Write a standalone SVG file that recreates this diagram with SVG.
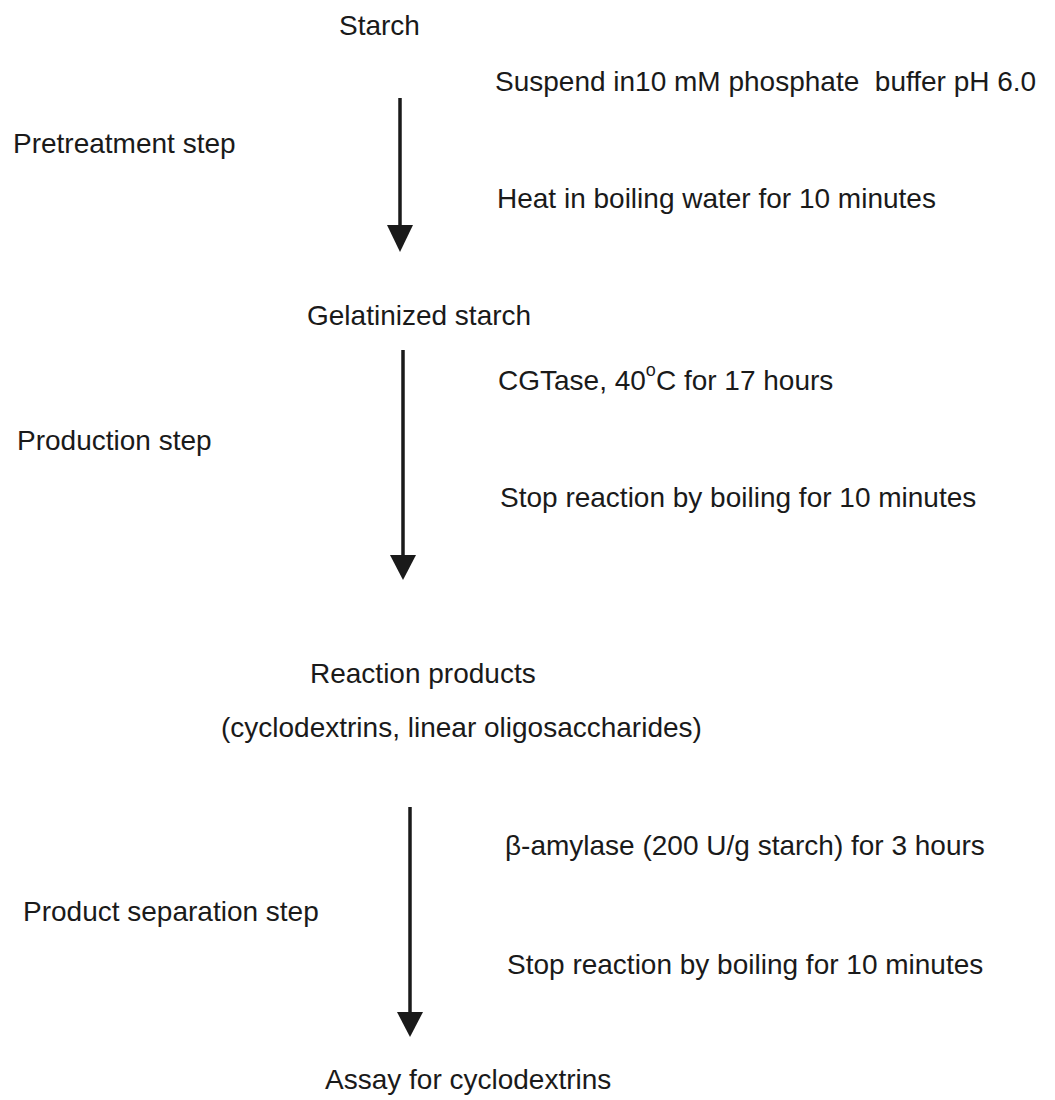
<svg xmlns="http://www.w3.org/2000/svg" width="1055" height="1100" viewBox="0 0 1055 1100">
<style>
text { font-family: "Liberation Sans", Arial, sans-serif; font-size: 28px; fill: #1a1a1a; }
.arrow { stroke: #1a1a1a; stroke-width: 3.5; fill: none; }
.head { fill: #1a1a1a; stroke: none; }
</style>
<rect width="1055" height="1100" fill="#ffffff"/>
<g id="connectors">
  <line class="arrow" x1="400" y1="98" x2="400" y2="228"/>
  <polygon class="head" points="387,225 413,225 400,252"/>
  <line class="arrow" x1="403" y1="350" x2="403" y2="558"/>
  <polygon class="head" points="390,555 416,555 403,580"/>
  <line class="arrow" x1="410" y1="807" x2="410" y2="1015"/>
  <polygon class="head" points="397,1012 423,1012 410,1037"/>
</g>
<g id="starch"><text x="339" y="35">Starch</text></g>
<g id="gelatinized"><text x="307" y="325">Gelatinized starch</text></g>
<g id="products">
  <text x="310" y="683">Reaction products</text>
  <text x="221" y="737">(cyclodextrins, linear oligosaccharides)</text>
</g>
<g id="assay"><text x="325" y="1089">Assay for cyclodextrins</text></g>
<g id="steps">
  <text x="13" y="153">Pretreatment step</text>
  <text x="17" y="450">Production step</text>
  <text x="23" y="921">Product separation step</text>
</g>
<g id="conditions">
  <text x="495" y="91" xml:space="preserve">Suspend in10 mM phosphate  buffer pH 6.0</text>
  <text x="497" y="208">Heat in boiling water for 10 minutes</text>
  <text x="498" y="390">CGTase, 40<tspan font-size="18" dy="-14">o</tspan><tspan dy="14">C for 17 hours</tspan></text>
  <text x="500" y="507">Stop reaction by boiling for 10 minutes</text>
  <text x="505" y="855">β-amylase (200 U/g starch) for 3 hours</text>
  <text x="507" y="974">Stop reaction by boiling for 10 minutes</text>
</g>
</svg>
